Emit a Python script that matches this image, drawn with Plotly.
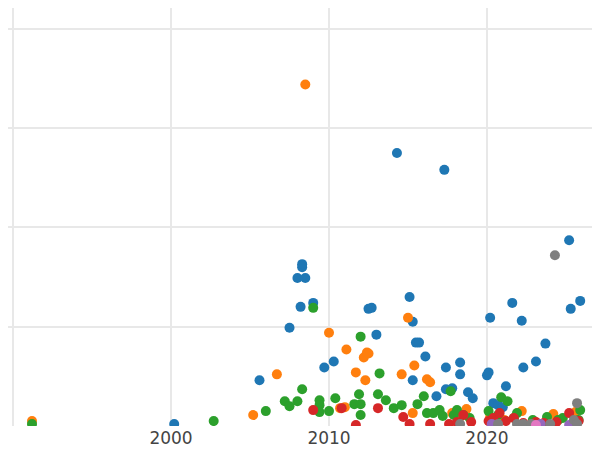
import plotly.graph_objects as go

# Values: (year, value) per group
blue_x = [2000.2, 2005.6, 2007.5, 2008.0, 2008.3, 2008.3, 2008.5, 2008.2, 2009.0, 2009.7, 2010.3, 2012.5,
          2012.7, 2013.0, 2014.3, 2015.1, 2015.3, 2015.5, 2015.7, 2016.1, 2015.3, 2016.8, 2017.3, 2017.4,
          2017.4, 2017.8, 2018.3, 2018.3, 2018.8, 2019.1, 2020.0, 2020.1, 2020.2, 2020.4, 2020.7, 2021.0,
          2021.2, 2021.6, 2022.2, 2022.3, 2023.1, 2023.7, 2025.2, 2025.3, 2025.9]
blue_y = [0.2, 4.6, 9.9, 14.9, 16.0, 16.3, 14.9, 12.0, 12.4, 5.9, 6.5, 11.8, 11.9, 9.2, 27.5, 13.0, 10.5,
          8.4, 8.4, 7.0, 4.6, 3.0, 25.8, 5.9, 3.7, 3.8, 6.4, 5.2, 3.4, 2.8, 5.1, 5.4, 10.9, 2.3, 2.1, 1.9,
          4.0, 12.4, 10.6, 5.9, 6.5, 8.3, 18.7, 11.8, 12.6]
orange_x = [1991.2, 2005.2, 2006.7, 2008.5, 2010.0, 2011.1, 2011.7, 2012.2, 2012.4, 2012.5, 2012.3, 2010.7,
            2011.0, 2014.6, 2015.0, 2015.4, 2015.3, 2016.2, 2016.4, 2018.7, 2017.8, 2018.2, 2020.2, 2021.1,
            2022.2, 2024.2, 2025.6]
orange_y = [0.5, 1.1, 5.2, 34.4, 9.4, 7.7, 5.4, 6.9, 7.4, 7.3, 4.6, 1.8, 1.9, 5.2, 10.9, 6.1, 1.3, 4.7,
            4.4, 1.7, 1.3, 0.6, 0.9, 0.6, 1.5, 1.2, 1.4]
green_x = [1991.2, 2002.7, 2006.0, 2007.2, 2007.5, 2008.0, 2008.3, 2009.0, 2009.4, 2009.4, 2009.4, 2010.0,
           2010.4, 2011.6, 2012.0, 2012.0, 2012.0, 2011.9, 2013.1, 2013.2, 2013.6, 2014.1, 2014.6, 2015.6,
           2016.0, 2016.2, 2016.6, 2017.0, 2017.2, 2017.7, 2017.9, 2018.1, 2018.5, 2018.9, 2020.1, 2020.7,
           2020.9, 2021.3, 2021.7, 2021.9, 2022.9, 2023.8, 2024.5, 2025.9, 2025.8, 2024.8]
green_y = [0.2, 0.5, 1.5, 2.5, 2.0, 2.5, 3.7, 11.9, 2.6, 2.1, 1.4, 1.5, 2.8, 2.2, 9.0, 1.1, 2.2, 3.2,
           3.2, 5.3, 2.6, 1.8, 2.1, 2.2, 3.0, 1.3, 1.3, 1.6, 1.0, 3.5, 1.1, 1.6, 1.1, 0.8, 1.5, 1.1, 2.9,
           2.5, 0.8, 1.3, 0.6, 0.9, 0.6, 1.6, 0.6, 0.8]
red_x = [2009.0, 2010.8, 2011.7, 2013.1, 2014.7, 2015.1, 2016.4, 2017.6, 2018.1, 2018.5, 2019.0, 2020.1,
         2020.4, 2020.8, 2021.2, 2021.7, 2022.3, 2023.1, 2023.6, 2024.4, 2025.2, 2025.8]
red_y = [1.6, 1.8, 0.1, 1.8, 0.9, 0.2, 0.2, 0.2, 0.4, 1.1, 0.4, 0.5, 0.8, 1.3, 0.5, 0.8, 0.3, 0.4, 0.3,
         0.4, 1.3, 0.5]
purple_x = [2020.3, 2023.4, 2025.2]
purple_y = [0.2, 0.2, 0.1]
gray_x = [2024.3, 2025.7, 2018.3, 2020.7, 2021.9, 2022.3, 2022.8, 2024.0, 2025.5, 2025.7]
gray_y = [17.2, 2.3, 0.2, 0.2, 0.2, 0.2, 0.2, 0.2, 0.6, 0.2]
pink_x = [2023.1]
pink_y = [0.1]

groups = [
    (blue_x, blue_y, "#1f77b4"),
    (orange_x, orange_y, "#ff7f0e"),
    (green_x, green_y, "#2ca02c"),
    (red_x, red_y, "#d62728"),
    (purple_x, purple_y, "#9467bd"),
    (gray_x, gray_y, "#7f7f7f"),
    (pink_x, pink_y, "#e377c2"),
]

fig = go.Figure()
for xs, ys, color in groups:
    fig.add_trace(go.Scatter(x=xs, y=ys, mode="markers",
                             marker=dict(color=color, size=10, line=dict(width=0)),
                             showlegend=False))

fig.update_layout(
    width=600, height=450,
    margin=dict(l=0, r=0, t=0, b=32),
    plot_bgcolor="white", paper_bgcolor="white",
    font=dict(family="DejaVu Sans", size=17, color="#444"),
    xaxis=dict(range=[1989.68, 2027.66], tickvals=[1990, 2000, 2010, 2020],
               ticktext=["", "2000", "2010", "2020"],
               showgrid=True, gridcolor="#e8e8e8", gridwidth=2, zeroline=False),
    yaxis=dict(range=[0, 42.1], dtick=10, showticklabels=False,
               showgrid=True, gridcolor="#e8e8e8", gridwidth=2, zeroline=False),
)

fig.write_html("out.html")
